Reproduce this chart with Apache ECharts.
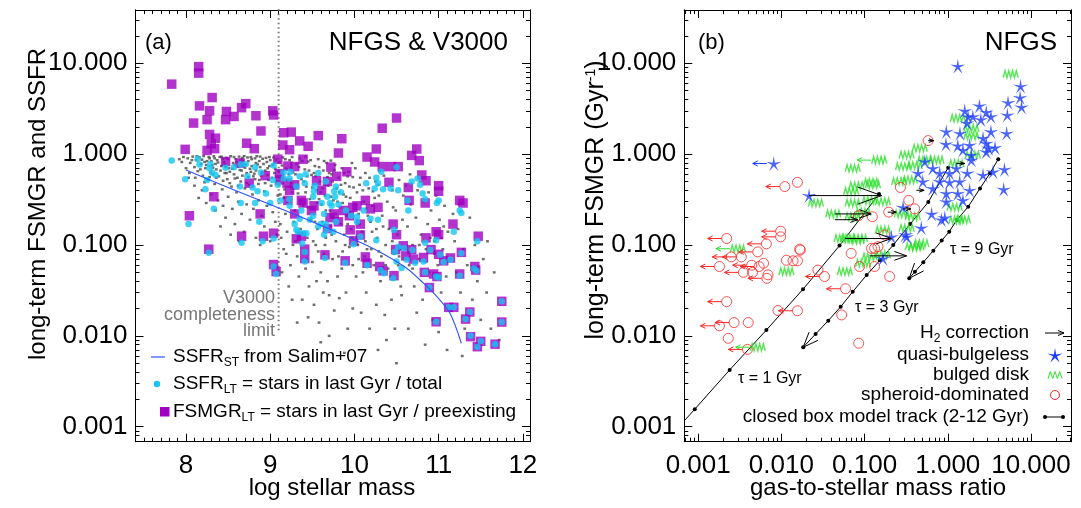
<!DOCTYPE html>
<html>
<head>
<meta charset="utf-8">
<script src="https://cdn.jsdelivr.net/npm/echarts@6/dist/echarts.min.js"></script>
<style>
  html, body { margin: 0; padding: 0; background: #fff; }
  #chart { width: 1081px; height: 508px; }
</style>
</head>
<body>
<div id="chart"></div>
<script>
// ---------- tick labels ----------
const massTicks = [8, 9, 10, 11, 12];
const rateTicks = [0.001, 0.01, 0.1, 1, 10];
const ratioTicks = [0.001, 0.01, 0.1, 1, 10];

// ---------- panel (a): NFGS & V3000 ----------
// V3000 comparison sample (small grey points): [log mass, SSFR]
const v3000Points = [
  [7.92,0.88],[7.97,0.93],[8.02,0.90],[8.05,0.80],[8.08,0.94],[8.10,0.72],[8.12,0.86],[8.14,0.65],[8.16,0.92],[8.18,0.78],
  [8.20,0.58],[8.21,0.95],[8.23,0.70],[8.25,0.84],[8.26,0.52],[8.28,0.90],[8.29,0.63],[8.31,0.76],[8.33,0.95],[8.34,0.47],
  [8.36,0.68],[8.37,0.86],[8.39,0.57],[8.40,0.93],[8.42,0.74],[8.43,0.41],[8.45,0.82],[8.46,0.62],[8.48,0.91],[8.49,0.53],
  [8.51,0.70],[8.53,0.95],[8.54,0.44],[8.56,0.80],[8.57,0.60],[8.59,0.88],[8.60,0.38],[8.62,0.73],[8.63,0.94],[8.65,0.50],
  [8.66,0.66],[8.68,0.85],[8.70,0.42],[8.71,0.77],[8.73,0.92],[8.74,0.56],[8.76,0.69],[8.78,0.88],[8.79,0.36],[8.81,0.61],
  [8.83,0.80],[8.84,0.95],[8.86,0.47],[8.88,0.72],[8.89,0.58],[8.91,0.89],[8.93,0.39],[8.94,0.66],[8.96,0.82],[8.98,0.52],
  [8.99,0.93],[9.01,0.45],[9.03,0.76],[9.05,0.62],[9.07,0.87],[9.09,0.35],[8.22,0.82],[8.32,0.60],[8.44,0.89],[8.52,0.64],
  [8.58,0.76],[8.67,0.91],[8.77,0.64],[8.87,0.84],[8.97,0.70],[8.35,0.78],[8.47,0.72],[8.61,0.55],[8.72,0.48],[8.82,0.53],
  [7.95,0.82],[8.00,0.70],[8.04,0.62],[8.07,0.86],[8.11,0.55],[8.13,0.95],[8.17,0.68],[8.19,0.87],[8.22,0.49],[8.24,0.76],
  [8.27,0.93],[8.28,0.56],[8.30,0.84],[8.32,0.71],[8.34,0.90],[8.36,0.55],[8.38,0.81],[8.41,0.66],[8.42,0.94],[8.44,0.51],
  [8.46,0.78],[8.48,0.62],[8.50,0.88],[8.52,0.48],[8.55,0.69],[8.57,0.93],[8.58,0.54],[8.60,0.82],[8.62,0.45],[8.64,0.67],
  [8.65,0.87],[8.67,0.58],[8.69,0.95],[8.70,0.71],[8.72,0.62],[8.74,0.84],[8.75,0.46],[8.77,0.93],[8.78,0.74],[8.80,0.57],
  [8.82,0.90],[8.83,0.66],[8.85,0.77],[8.87,0.52],[8.88,0.94],[8.90,0.63],[8.92,0.78],[8.94,0.48],[8.95,0.91],[8.97,0.59],
  [8.99,0.74],[9.00,0.86],[9.02,0.55],[9.04,0.92],[9.06,0.69],[9.08,0.50],
  [8.03,0.55],[8.10,0.45],[8.15,0.33],[8.19,0.40],[8.24,0.29],[8.30,0.36],[8.35,0.24],[8.38,0.31],[8.44,0.27],[8.47,0.20],
  [8.50,0.34],[8.55,0.25],[8.58,0.17],[8.62,0.30],[8.66,0.22],[8.69,0.14],[8.72,0.28],[8.76,0.19],[8.80,0.25],[8.83,0.12],
  [8.86,0.31],[8.90,0.21],[8.93,0.16],[8.96,0.27],[9.00,0.11],[9.03,0.23],[9.06,0.18],[8.41,0.16],[8.53,0.13],[8.63,0.11],
  [8.88,0.10],[9.08,0.13],
  [9.11,0.82],[9.13,0.55],[9.15,0.92],[9.17,0.41],[9.19,0.70],[9.21,0.29],[9.23,0.86],[9.25,0.48],[9.27,0.63],[9.29,0.24],
  [9.31,0.78],[9.33,0.37],[9.35,0.90],[9.37,0.53],[9.39,0.27],[9.41,0.68],[9.43,0.44],[9.45,0.83],[9.47,0.32],[9.49,0.59],
  [9.51,0.22],[9.53,0.74],[9.55,0.40],[9.57,0.88],[9.59,0.50],[9.61,0.28],[9.63,0.66],[9.65,0.35],[9.67,0.80],[9.69,0.45],
  [9.71,0.24],[9.73,0.60],[9.75,0.31],[9.77,0.76],[9.79,0.42],[9.81,0.55],[9.83,0.26],[9.85,0.70],[9.87,0.36],[9.89,0.48],
  [9.91,0.21],[9.93,0.64],[9.95,0.33],[9.97,0.80],[9.99,0.43],[9.12,0.36],[9.22,0.60],[9.32,0.46],[9.42,0.94],[9.52,0.62],
  [9.62,0.42],[9.72,0.85],[9.82,0.38],[9.92,0.57],[9.18,0.22],[9.44,0.57],[9.58,0.32],[9.68,0.56],[9.86,0.29],[9.26,0.38],
  [9.10,0.65],[9.14,0.75],[9.16,0.33],[9.18,0.88],[9.20,0.52],[9.24,0.70],[9.26,0.93],[9.28,0.42],[9.30,0.60],[9.34,0.72],
  [9.36,0.31],[9.38,0.84],[9.40,0.50],[9.42,0.38],[9.46,0.66],[9.48,0.86],[9.50,0.43],[9.54,0.57],[9.56,0.29],[9.58,0.72],
  [9.60,0.38],[9.64,0.84],[9.66,0.46],[9.70,0.62],[9.72,0.34],[9.74,0.50],[9.76,0.67],[9.80,0.30],[9.84,0.46],[9.88,0.62],
  [9.90,0.34],[9.94,0.44],[9.98,0.56],[10.02,0.28],[10.06,0.46],[10.10,0.40],[10.14,0.25],[10.18,0.55],[10.24,0.33],[10.28,0.46],
  [9.45,0.26],[9.66,0.24],[9.78,0.22],[9.95,0.23],[10.06,0.17],[10.16,0.21],[10.26,0.15],[9.53,0.18],[9.74,0.20],[9.92,0.17],
  [9.12,0.17],[9.16,0.09],[9.20,0.14],[9.24,0.06],[9.28,0.18],[9.30,0.11],[9.34,0.045],[9.36,0.15],[9.40,0.08],[9.44,0.12],
  [9.46,0.035],[9.48,0.19],[9.50,0.065],[9.54,0.10],[9.56,0.15],[9.60,0.05],[9.62,0.18],[9.64,0.08],[9.66,0.12],[9.70,0.028],
  [9.72,0.16],[9.74,0.07],[9.78,0.11],[9.80,0.045],[9.84,0.17],[9.86,0.085],[9.88,0.13],[9.90,0.03],[9.94,0.095],[9.96,0.15],
  [9.98,0.06],[9.22,0.035],[9.38,0.025],[9.52,0.022],[9.58,0.014],[9.68,0.04],[9.76,0.019],[9.82,0.026],[9.92,0.012],[9.98,0.02],
  [9.42,0.055],[9.14,0.05],[9.26,0.025],[9.32,0.075],[9.55,0.04],[9.63,0.03],[9.85,0.055],[9.70,0.010],[9.45,0.016],[9.88,0.0065],
  [9.60,0.0085],[9.32,0.014],
  [9.13,0.12],[9.19,0.08],[9.27,0.10],[9.35,0.13],[9.43,0.07],[9.51,0.11],[9.57,0.085],[9.65,0.10],[9.73,0.13],[9.81,0.075],
  [9.89,0.10],[9.97,0.12],[10.05,0.07],[10.13,0.11],[10.21,0.14],[10.29,0.085],[10.37,0.06],[10.45,0.11],[10.53,0.075],[10.61,0.09],
  [10.69,0.055],[10.77,0.10],[10.85,0.065],[10.95,0.08],[11.03,0.12],
  [10.01,0.70],[10.03,0.38],[10.05,0.22],[10.07,0.55],[10.09,0.14],[10.11,0.30],[10.13,0.62],[10.15,0.09],[10.17,0.42],[10.19,0.18],
  [10.21,0.27],[10.23,0.06],[10.25,0.50],[10.27,0.12],[10.29,0.35],[10.31,0.04],[10.33,0.21],[10.35,0.58],[10.37,0.10],[10.39,0.30],
  [10.41,0.15],[10.43,0.045],[10.45,0.40],[10.47,0.08],[10.49,0.24],[10.51,0.13],[10.53,0.52],[10.55,0.035],[10.57,0.19],[10.59,0.07],
  [10.04,0.10],[10.10,0.05],[10.14,0.03],[10.20,0.09],[10.26,0.022],[10.32,0.075],[10.36,0.017],[10.40,0.055],[10.44,0.025],[10.48,0.012],
  [10.52,0.06],[10.56,0.028],[10.58,0.35],[10.08,0.018],[10.18,0.012],[10.28,0.007],[10.38,0.009],[10.50,0.005],[10.12,0.075],[10.22,0.39],
  [10.34,0.16],[10.46,0.26],[10.54,0.09],[10.02,0.045],[10.30,0.65],
  [10.61,0.45],[10.63,0.16],[10.65,0.06],[10.67,0.28],[10.69,0.10],[10.71,0.035],[10.73,0.20],[10.75,0.40],[10.77,0.07],[10.79,0.13],
  [10.81,0.025],[10.83,0.30],[10.85,0.09],[10.87,0.17],[10.89,0.05],[10.91,0.24],[10.93,0.015],[10.95,0.11],[10.97,0.35],[10.99,0.06],
  [11.01,0.19],[11.03,0.03],[11.05,0.09],[11.07,0.27],[11.09,0.045],[11.11,0.14],[11.13,0.02],[11.15,0.07],[11.17,0.22],[11.19,0.11],
  [10.64,0.012],[10.74,0.018],[10.84,0.008],[10.90,0.12],[11.00,0.011],[11.06,0.16],[10.66,0.6],[10.78,0.5],[10.88,0.38],[11.10,0.007],
  [11.21,0.05],[11.23,0.15],[11.26,0.03],[11.29,0.09],[11.31,0.012],[11.34,0.06],[11.37,0.20],[11.40,0.025],[11.43,0.10],[11.46,0.04],
  [11.50,0.015],[11.53,0.07],[11.57,0.03],[11.62,0.012],[11.66,0.05],[11.72,0.009],[11.28,0.006],[11.45,0.008],[11.24,0.28],[11.58,0.11]
];

// FSMGR_LT (purple squares): [log mass, FSMGR]
const fsmgrLtPoints = [
  [7.83,5.9],[8.15,9.2],[8.15,7.8],[8.31,4.2],[8.16,3.4],[8.28,3.0],[8.25,2.4],[8.09,2.2],[8.48,2.95],[8.47,2.4],
  [8.57,2.6],[8.66,3.25],[8.71,3.6],[8.83,2.65],[9.03,3.0],[9.04,2.7],[8.89,1.8],[8.28,1.65],[8.35,1.5],[8.30,1.3],
  [8.25,1.1],[8.34,1.15],[7.99,1.13],[8.72,1.32],[8.81,1.15],[9.16,1.72],[9.25,1.75],[9.15,1.26],[9.23,1.12],[9.35,1.4],
  [9.45,1.22],[9.57,1.6],[9.09,0.88],[9.39,0.88],[8.47,0.83],[8.64,0.80],[8.33,0.34],[8.04,0.21],[8.88,0.22],[8.94,0.58],
  [9.21,0.74],[9.29,0.73],[9.20,0.48],[9.23,0.40],[9.37,0.31],[9.11,0.61],[9.72,0.72],[9.79,0.57],[9.55,0.51],[9.61,0.40],
  [9.68,0.50],[9.76,0.22],[9.81,0.18],[9.52,0.27],[8.66,0.125],[8.92,0.125],[9.04,0.135],[9.37,0.125],[8.75,0.48],[9.85,1.48],
  [9.81,1.03],[9.91,0.64],[10.26,1.14],[10.33,1.93],[10.50,2.5],[10.15,0.93],[10.24,0.82],[10.33,0.73],[10.44,0.73],[10.52,0.73],
  [10.74,1.14],[10.68,0.97],[10.77,0.85],[10.41,0.49],[10.80,0.59],[10.85,0.51],[11.00,0.45],[11.00,0.39],[10.64,0.43],[10.65,0.31],
  [10.84,0.29],[11.25,0.31],[11.29,0.29],[11.17,0.17],[11.47,0.125],[10.97,0.14],[11.00,0.13],[10.85,0.12],[10.46,0.17],[10.50,0.13],
  [10.13,0.31],[10.28,0.26],[10.19,0.25],[10.03,0.27],[9.98,0.26],[9.87,0.24],[9.94,0.21],[9.71,0.20],[9.49,0.24],[9.29,0.46],
  [9.21,0.31],[9.11,0.52],[9.29,0.22],[9.39,0.29],[8.27,0.090],[9.68,0.152],[9.95,0.147],[10.07,0.17],[9.04,0.061],[9.07,0.051],
  [9.41,0.090],[9.41,0.071],[9.31,0.117],[9.65,0.078],[9.89,0.067],[9.99,0.111],[10.07,0.129],[10.13,0.074],[10.15,0.063],[10.30,0.058],
  [10.34,0.052],[10.47,0.046],[10.49,0.089],[10.58,0.098],[10.68,0.089],[10.61,0.076],[10.70,0.070],[10.82,0.073],[10.91,0.089],[11.00,0.079],
  [11.06,0.067],[11.14,0.072],[11.27,0.083],[10.83,0.050],[10.94,0.048],[10.98,0.045],[11.25,0.048],[10.89,0.034],[11.12,0.0206],[11.18,0.0206],
  [11.43,0.058],[11.44,0.053],[11.37,0.0183],[11.32,0.0153],[10.97,0.0143],[11.38,0.0098],[11.46,0.0076],[11.50,0.0087],[11.67,0.0081],[11.75,0.024],
  [11.75,0.0142]
];

// SSFR_LT (cyan dots): [log mass, SSFR]
const ssfrLtPoints = [
  [7.83,0.85],[7.99,0.53],[8.03,0.17],[8.14,0.89],[8.16,0.77],[8.23,0.41],[8.25,0.52],[8.29,0.78],[8.28,0.70],[8.31,0.63],
  [8.33,0.25],[8.35,0.59],[8.47,0.71],[8.57,0.72],[8.65,0.77],[8.71,0.78],[8.82,0.72],[8.89,0.63],[8.73,0.57],[8.64,0.44],
  [8.65,0.29],[8.79,0.43],[8.85,0.39],[8.95,0.37],[8.82,0.29],[8.87,0.18],[9.04,0.75],[9.03,0.52],[9.09,0.46],[9.16,0.54],
  [9.16,0.63],[9.24,0.64],[9.23,0.54],[9.31,0.44],[9.35,0.57],[9.41,0.48],[9.42,0.60],[9.53,0.45],[9.57,0.62],[9.66,0.50],
  [9.78,0.44],[9.77,0.34],[9.68,0.34],[9.51,0.34],[9.52,0.39],[9.37,0.24],[9.23,0.32],[9.29,0.17],[9.33,0.14],[9.43,0.135],
  [9.51,0.21],[9.61,0.29],[9.64,0.22],[9.66,0.17],[9.75,0.14],[9.64,0.13],[9.57,0.16],[9.73,0.27],[9.78,0.18],
  [10.14,0.48],[10.26,0.55],[10.28,0.48],[10.32,0.64],[10.50,0.72],[10.24,0.42],[10.34,0.41],[10.43,0.42],[10.52,0.40],[10.68,0.50],
  [10.75,0.54],[10.78,0.46],[10.81,0.37],[10.84,0.32],[11.00,0.31],[10.98,0.29],[11.25,0.24],[11.27,0.225],[11.18,0.14],[11.46,0.11],
  [10.63,0.31],[10.64,0.24],[10.47,0.147],[10.52,0.096],[10.59,0.092],[9.96,0.21],[10.03,0.205],[10.03,0.18],[10.19,0.195],[10.28,0.19],
  [10.11,0.24],[9.90,0.24],[9.81,0.28],[9.76,0.39],[9.84,0.38],[9.71,0.29],[9.60,0.17],[9.47,0.19],[9.35,0.195],[9.39,0.135],
  [9.38,0.104],[9.12,0.31],[9.23,0.27],[9.31,0.147],[9.00,0.29],[9.04,0.118],[8.66,0.106],[10.26,0.113],[10.07,0.123],[9.67,0.147],
  [8.27,0.082],[8.91,0.11],[9.04,0.058],[9.07,0.048],[9.41,0.084],[9.41,0.066],[9.65,0.072],[9.89,0.064],[9.99,0.102],[10.15,0.060],
  [10.31,0.053],[10.35,0.049],[10.46,0.043],[10.48,0.084],[10.50,0.066],[10.56,0.056],[10.69,0.088],[10.62,0.069],[10.72,0.064],[10.82,0.066],
  [10.84,0.050],[10.97,0.045],[11.00,0.044],[10.97,0.113],[10.84,0.106],[10.90,0.088],[11.02,0.078],[11.06,0.065],[11.14,0.069],[11.27,0.081],
  [11.25,0.046],[10.89,0.034],[11.12,0.0206],[11.18,0.0206],[11.42,0.055],[11.45,0.052],[11.37,0.0183],[11.32,0.0153],[10.97,0.0143],[11.38,0.0100],
  [11.46,0.0076],[11.50,0.0087],[11.67,0.0081],[11.75,0.024],[11.75,0.0142]
];

// SSFR_ST relation from Salim+07
const salimMass = [8.0, 8.5, 9.0, 9.5, 10.1, 10.34, 10.62, 10.82, 10.98, 11.135, 11.27];
const salimSsfr = [0.67, 0.43, 0.28, 0.18, 0.104, 0.080, 0.0555, 0.038, 0.027, 0.0177, 0.0083];

// V3000 completeness limit (dotted line)
const completenessMass = 9.1;
const completenessSsfr = [0.0115, 40];

// ---------- panel (b): NFGS ----------
// [gas-to-stellar mass ratio, FSMGR]
const bulgeless = [
  [1.32,9.3],[7.5,5.6],[7.4,4.2],[5.3,3.7],[7.7,3.3],[5.2,2.7],[2.4,3.4],[1.6,3.0],[1.75,2.6],[2.0,2.6],
  [2.9,2.9],[3.3,2.6],[1.7,2.2],[2.5,2.4],[0.96,1.77],[1.4,1.7],[3.3,1.77],[5.1,1.7],[2.65,1.5],[0.95,1.29],
  [1.32,1.24],[1.83,1.26],[2.9,1.32],[3.1,1.16],[3.7,1.18],[1.52,1.11],[1.92,0.98],[2.9,1.06],[1.92,0.86],[0.53,0.83],
  [0.66,0.70],[1.27,0.70],[0.44,0.62],[0.80,0.62],[1.05,0.62],[1.72,0.62],[3.5,0.64],[4.8,0.68],[2.65,0.59],[0.50,0.50],
  [0.80,0.50],[1.05,0.49],[1.39,0.50],[0.66,0.42],[0.96,0.37],[1.32,0.37],[1.83,0.40],[4.7,0.41],[0.96,0.30],[1.52,0.31],
  [0.64,0.22],[0.84,0.19],[0.92,0.20],[0.29,0.26],[0.31,0.13],[0.48,0.155],[0.0215,0.35],[0.21,0.123],[0.32,0.123],[0.166,0.071]
];
const bulgelessUpper = [[0.0081,0.79]];

const bulgedDisk = [
  [5.7,7.6],[1.32,2.48],[1.92,1.93],[1.92,1.59],[2.0,0.98],[0.46,1.16],[0.32,0.98],[0.53,0.86],[0.73,0.86],[0.29,0.73],
  [0.40,0.75],[1.27,0.79],[0.072,0.70],[0.12,0.49],[0.26,0.50],[0.069,0.39],[0.35,0.52],[0.026,0.29],[0.072,0.29],[0.166,0.30],
  [0.042,0.22],[0.072,0.205],[0.096,0.23],[0.28,0.22],[0.38,0.205],[1.21,0.26],[1.27,0.188],[0.053,0.118],[0.166,0.146],[0.32,0.153],
  [0.38,0.096],[0.080,0.113],[0.063,0.118],[0.115,0.074],[0.058,0.051],[0.096,0.063],[0.42,0.096],[0.0115,0.051],[0.080,0.45],[0.126,0.46],
  [0.115,0.31],[1.52,0.19],[0.166,0.078],[0.48,0.104],[0.088,0.118]
];
const bulgedUpper = [[0.15,0.86],[0.0030,0.091],[0.0052,0.0075]];

const spheroid = [
  [0.58,1.41],[0.0156,0.49],[0.27,0.43],[0.34,0.31],[0.40,0.25],[0.195,0.23],[0.084,0.21],[0.124,0.205],[0.0166,0.090],[0.132,0.092],
  [0.174,0.129],[0.121,0.092],[0.145,0.096],[0.0061,0.063],[0.0045,0.050],[0.0069,0.047],[0.0115,0.068],[0.0138,0.067],[0.0156,0.067],[0.0169,0.088],
  [0.0275,0.053],[0.069,0.081],[0.087,0.058],[0.132,0.058],[0.20,0.045],[0.0091,0.019],[0.053,0.017],[0.0040,0.014],[0.0023,0.0094],[0.085,0.0083]
];
const spheroidUpper = [
  [0.0110,0.44],[0.0022,0.118],[0.0098,0.142],[0.0098,0.123],[0.0066,0.103],[0.0025,0.074],[0.0033,0.074],[0.0052,0.084],[0.0054,0.058],[0.0044,0.060],
  [0.0018,0.058],[0.0035,0.050],[0.0067,0.043],[0.033,0.045],[0.059,0.033],[0.0156,0.0189],[0.0022,0.0238],[0.0018,0.0129],[0.0027,0.014],[0.0039,0.0071]
];

// H2 correction: [ratio before, ratio after, FSMGR]
const h2Arrows = [
  [0.0215,0.16,0.35],[0.058,0.21,0.118],[0.115,0.32,0.076],[0.044,0.12,0.22],[0.044,0.083,0.19],
  [0.58,0.68,1.41],[1.27,1.6,0.79],[0.42,0.52,0.40],[0.29,0.36,0.25],[0.19,0.24,0.23]
];

// closed box model tracks, 2 Gyr -> 12 Gyr: [ratio, FSMGR]
const tau1Track = [[0.149,0.364],[0.050,0.0985],[0.0182,0.0326],[0.0066,0.0116],[0.00239,0.00422],[0.00091,0.00156],[0.00068,0.00116]];
const tau3Track = [[1.01,0.71],[0.583,0.297],[0.352,0.170],[0.221,0.100],[0.153,0.068],[0.106,0.0468],[0.072,0.0306],[0.0516,0.0209],[0.0366,0.0147],[0.0258,0.0105],[0.0183,0.0075]];
const tau9Track = [[4.04,0.88],[3.21,0.615],[2.44,0.42],[1.76,0.264],[1.28,0.188],[1.04,0.140],[0.845,0.112],[0.67,0.0867],[0.508,0.0645],[0.403,0.0508],[0.344,0.043]];

// ---------- styling ----------
const FONT = '"Liberation Sans", Arial, Helvetica, sans-serif';
const PURPLE = '#a000c2';
const CYAN = '#12c6f2';
const LINE_BLUE = '#2f52ff';
const STAR_BLUE = '#1a3cff';
const GREEN = '#2ee02e';
const RED = '#ff2424';
const STAR = 'path://M50,0 L57.05,40.29 L97.55,34.55 L61.41,53.71 L79.39,90.45 L50,62 L20.61,90.45 L38.59,53.71 L2.45,34.55 L42.95,40.29 Z';
const ZIGZAG = 'path://M0,10 L2.5,0 L5,10 L7.5,0 L10,10 L12.5,0 L15,10 L17.5,0 L20,10';

const lg = Math.log10;
const logXY = pts => pts.map(p => [lg(p[0]), lg(p[1])]);
const massXY = pts => pts.map(p => [p[0], lg(p[1])]);

const A = { xMin: 7.4, xMax: 12.085, yMin: -3.165, yMax: 1.587 };
const B = { xMin: -3.167, xMax: 1.481, yMin: -3.165, yMax: 1.587 };

function logMinor(lo, hi) {
  const out = [];
  for (let k = Math.floor(lo); k <= Math.ceil(hi); k++) {
    for (let m = 2; m <= 9; m++) {
      const v = k + lg(m);
      if (v > lo && v < hi) out.push(v);
    }
  }
  return out;
}
function linMinor(lo, hi, step) {
  const out = [];
  for (let i = Math.ceil(lo / step); i * step < hi; i++) {
    if (i % 10 !== 0) out.push(+(i * step).toFixed(3));
  }
  return out;
}
const fmtLog = v => Math.pow(10, v).toFixed(3);

function axis(grid, pos, min, max, ticks, len, labels, fmt, margin) {
  const a = {
    type: 'value', gridIndex: grid, position: pos, min: min, max: max,
    axisLine: { show: true, onZero: false, lineStyle: { color: '#000', width: 1 } },
    axisTick: { show: true, inside: true, length: len, customValues: ticks, lineStyle: { color: '#000', width: 1 } },
    axisLabel: { show: false },
    splitLine: { show: false }
  };
  if (labels) {
    a.axisLabel = { show: true, customValues: labels, formatter: fmt, margin: margin,
      fontSize: 26, fontFamily: FONT, color: '#000' };
  }
  return a;
}

const massMajor = massTicks;
const massMinor = linMinor(A.xMin, A.xMax, 0.1);
const rateMajor = rateTicks.map(lg);
const rateMinor = logMinor(A.yMin, A.yMax);
const ratioMajor = ratioTicks.map(lg);
const ratioMinor = logMinor(B.xMin, B.xMax);

const xAxes = [
  axis(0, 'bottom', A.xMin, A.xMax, massMajor, 8, massTicks, v => String(v), 11),
  axis(0, 'bottom', A.xMin, A.xMax, massMinor, 4),
  axis(0, 'top', A.xMin, A.xMax, massMajor, 8),
  axis(0, 'top', A.xMin, A.xMax, massMinor, 4),
  axis(1, 'bottom', B.xMin, B.xMax, ratioMajor, 8, ratioMajor, fmtLog, 11),
  axis(1, 'bottom', B.xMin, B.xMax, ratioMinor, 4),
  axis(1, 'top', B.xMin, B.xMax, ratioMajor, 8),
  axis(1, 'top', B.xMin, B.xMax, ratioMinor, 4)
];
const yAxes = [
  axis(0, 'left', A.yMin, A.yMax, rateMajor, 8, rateMajor, fmtLog, 8),
  axis(0, 'left', A.yMin, A.yMax, rateMinor, 4),
  axis(0, 'right', A.yMin, A.yMax, rateMajor, 8),
  axis(0, 'right', A.yMin, A.yMax, rateMinor, 4),
  axis(1, 'left', B.yMin, B.yMax, rateMajor, 8, rateMajor, fmtLog, 8),
  axis(1, 'left', B.yMin, B.yMax, rateMinor, 4),
  axis(1, 'right', B.yMin, B.yMax, rateMajor, 8),
  axis(1, 'right', B.yMin, B.yMax, rateMinor, 4)
];

// arrow pointing left from a symbol (upper limit on gas)
function limitArrows(points, color, gap) {
  return {
    type: 'custom', xAxisIndex: 4, yAxisIndex: 4, clip: true, z: 4,
    data: logXY(points),
    renderItem: function (params, api) {
      const p = api.coord([api.value(0), api.value(1)]);
      const x0 = p[0] - gap, x1 = p[0] - gap - 14, y = p[1];
      return { type: 'group', children: [
        { type: 'line', shape: { x1: x0, y1: y, x2: x1, y2: y }, style: { stroke: color, lineWidth: 1 } },
        { type: 'polyline', shape: { points: [[x1 + 5, y - 2.5], [x1, y], [x1 + 5, y + 2.5]] },
          style: { stroke: color, fill: null, lineWidth: 1 } }
      ] };
    }
  };
}

function trackArrow(track) {
  const n = track.length;
  return [lg(track[n - 2][0]), lg(track[n - 2][1]), lg(track[n - 1][0]), lg(track[n - 1][1])];
}

function trackSeries(track, hideLast) {
  return {
    type: 'line', xAxisIndex: 4, yAxisIndex: 4, z: 2,
    data: logXY(track).map((p, i) => (hideLast && i === track.length - 1) ? { value: p, symbol: 'none' } : p),
    symbol: 'circle', symbolSize: 4, showSymbol: true,
    itemStyle: { color: '#000' },
    lineStyle: { color: '#000', width: 1 },
    silent: true
  };
}

const series = [
  { type: 'scatter', xAxisIndex: 0, yAxisIndex: 0, data: massXY(v3000Points),
    symbol: 'rect', symbolSize: [2.8, 2.4], itemStyle: { color: '#474747' }, z: 1, silent: true },
  { type: 'line', xAxisIndex: 0, yAxisIndex: 0,
    data: [[completenessMass, lg(completenessSsfr[0])], [completenessMass, lg(completenessSsfr[1])]],
    symbol: 'none', lineStyle: { color: '#777', width: 2, type: [1.5, 3] }, z: 1, silent: true },
  { type: 'scatter', xAxisIndex: 0, yAxisIndex: 0, data: massXY(fsmgrLtPoints),
    symbol: 'rect', symbolSize: 9.5, itemStyle: { color: PURPLE }, z: 3, silent: true },
  { type: 'scatter', xAxisIndex: 0, yAxisIndex: 0, data: massXY(ssfrLtPoints),
    symbol: 'circle', symbolSize: 6.5, itemStyle: { color: CYAN }, z: 4, silent: true },
  { type: 'line', xAxisIndex: 0, yAxisIndex: 0, data: salimMass.map((m, i) => [m, lg(salimSsfr[i])]),
    symbol: 'none', smooth: 0.3, lineStyle: { color: LINE_BLUE, width: 1.1 }, z: 5, silent: true },

  trackSeries(tau1Track, true),
  trackSeries(tau3Track, false),
  trackSeries(tau9Track, false),
  { type: 'custom', xAxisIndex: 4, yAxisIndex: 4, clip: true, z: 2,
    data: [trackArrow(tau3Track), trackArrow(tau9Track)],
    renderItem: function (params, api) {
      const a = api.coord([api.value(0), api.value(1)]);
      const b = api.coord([api.value(2), api.value(3)]);
      const dx = b[0] - a[0], dy = b[1] - a[1], d = Math.hypot(dx, dy);
      const ux = dx / d, uy = dy / d, hl = 15, hw = 6;
      return { type: 'polyline', shape: { points: [
        [b[0] - ux * hl - uy * hw, b[1] - uy * hl + ux * hw], [b[0], b[1]],
        [b[0] - ux * hl + uy * hw, b[1] - uy * hl - ux * hw]] },
        style: { stroke: '#000', fill: null, lineWidth: 1 } };
    }
  },
  { type: 'scatter', xAxisIndex: 4, yAxisIndex: 4, data: logXY(bulgedDisk.concat(bulgedUpper)),
    symbol: ZIGZAG, symbolSize: [15, 7], itemStyle: { color: 'transparent', borderColor: GREEN, borderWidth: 1 }, z: 3, silent: true },
  { type: 'scatter', xAxisIndex: 4, yAxisIndex: 4, data: logXY(spheroid.concat(spheroidUpper)),
    symbol: 'circle', symbolSize: 10, itemStyle: { color: 'transparent', borderColor: RED, borderWidth: 1 }, z: 3, silent: true },
  { type: 'scatter', xAxisIndex: 4, yAxisIndex: 4, data: logXY(bulgeless.concat(bulgelessUpper)),
    symbol: STAR, symbolSize: 15, itemStyle: { color: STAR_BLUE }, z: 3, silent: true },
  limitArrows(bulgedUpper, GREEN, 8),
  limitArrows(spheroidUpper, RED, 5),
  limitArrows(bulgelessUpper, STAR_BLUE, 7),
  { type: 'custom', xAxisIndex: 4, yAxisIndex: 4, clip: true, z: 6,
    data: h2Arrows.map(a => [lg(a[0]), lg(a[2]), lg(a[1])]),
    renderItem: function (params, api) {
      const a = api.coord([api.value(0), api.value(1)]);
      const b = api.coord([api.value(2), api.value(1)]);
      const len = b[0] - a[0], hl = Math.max(5, len * 0.33), hw = hl * 0.36;
      return { type: 'group', children: [
        { type: 'line', shape: { x1: a[0], y1: a[1], x2: b[0], y2: b[1] }, style: { stroke: '#000', lineWidth: 1 } },
        { type: 'polyline', shape: { points: [[b[0] - hl, b[1] - hw], [b[0], b[1]], [b[0] - hl, b[1] + hw]] },
          style: { stroke: '#000', fill: null, lineWidth: 1 } }
      ] };
    }
  }
];

// ---------- text & legends ----------
const sub = { fontSize: 12, fontFamily: FONT, verticalAlign: 'bottom', lineHeight: 12, fill: '#000' };
const sup = { fontSize: 14, fontFamily: FONT, verticalAlign: 'top', lineHeight: 12, fill: '#000' };
function txt(x, y, text, size, align, extra, color) {
  return Object.assign({ type: 'text', x: x, y: y, silent: true, z: 10,
    style: { text: text, fontSize: size, fontFamily: FONT, fill: color || '#000', textAlign: align || 'left', textVerticalAlign: 'middle' } }, extra || {});
}
function rich(x, y, text, size, align, extra) {
  const t = txt(x, y, text, size, align, extra);
  t.style.rich = { t: { fontSize: size, fontFamily: FONT, lineHeight: 24, fill: '#000' }, sub: sub, sup: sup };
  return t;
}
// legend marker outlines (pixel geometry of the key symbols)
function starPoints(cx, cy, R, r) {
  const pts = [];
  for (let i = 0; i < 10; i++) {
    const ang = -Math.PI / 2 + i * Math.PI / 5, rad = i % 2 ? r : R;
    pts.push([cx + rad * Math.cos(ang), cy + rad * Math.sin(ang)]);
  }
  return pts;
}
function zigzagPoints(x, y, w, h, n) {
  const pts = [];
  for (let i = 0; i <= n; i++) pts.push([x + i * w / n, i % 2 ? y - h / 2 : y + h / 2]);
  return pts;
}

const graphics = [
  // panel (a)
  txt(145, 43, '(a)', 22),
  txt(508, 43, 'NFGS & V3000', 26, 'right'),
  txt(275, 298, 'V3000', 18, 'right', null, '#777'),
  txt(275, 315, 'completeness', 18, 'right', null, '#777'),
  txt(275, 331, 'limit', 18, 'right', null, '#777'),
  { type: 'line', shape: { x1: 151, y1: 357, x2: 165, y2: 357 }, style: { stroke: LINE_BLUE, lineWidth: 1.2 }, z: 10 },
  rich(173, 357, '{t|SSFR}{sub|ST}{t| from Salim+07}', 19),
  { type: 'circle', shape: { cx: 157, cy: 384, r: 3.2 }, style: { fill: CYAN }, z: 10 },
  rich(173, 384, '{t|SSFR}{sub|LT}{t| = stars in last Gyr / total}', 19),
  { type: 'rect', shape: { x: 160, y: 407, width: 9.5, height: 9.5 }, style: { fill: PURPLE }, z: 10 },
  rich(173, 412, '{t|FSMGR}{sub|LT}{t| = stars in last Gyr / preexisting}', 19),
  // panel (b)
  txt(698, 43, '(b)', 22),
  txt(1057, 43, 'NFGS', 26, 'right'),
  txt(950, 250, 'τ = 9 Gyr', 16),
  txt(855, 308, 'τ = 3 Gyr', 16),
  txt(738, 379, 'τ = 1 Gyr', 16),
  rich(1029, 333, '{t|H}{sub|2}{t| correction}', 19, 'right'),
  txt(1029, 355, 'quasi-bulgeless', 19, 'right'),
  txt(1029, 375, 'bulged disk', 19, 'right'),
  txt(1029, 395, 'spheroid-dominated', 19, 'right'),
  txt(1029, 417, 'closed box model track (2-12 Gyr)', 19, 'right'),
  { type: 'line', z: 10, shape: { x1: 1045, y1: 333, x2: 1064, y2: 333 }, style: { stroke: '#000', lineWidth: 1 } },
  { type: 'polyline', z: 10, shape: { points: [[1058, 330.5], [1064, 333], [1058, 335.5]] }, style: { stroke: '#000', fill: null, lineWidth: 1 } },
  { type: 'polygon', z: 10, shape: { points: starPoints(1055, 356, 8, 2) }, style: { fill: STAR_BLUE } },
  { type: 'polyline', z: 10, shape: { points: zigzagPoints(1048, 375, 14, 7, 6) }, style: { stroke: GREEN, fill: null, lineWidth: 1 } },
  { type: 'circle', z: 10, shape: { cx: 1055, cy: 395, r: 4.5 }, style: { stroke: RED, fill: null, lineWidth: 1 } },
  { type: 'line', z: 10, shape: { x1: 1045, y1: 417, x2: 1063, y2: 417 }, style: { stroke: '#000', lineWidth: 1 } },
  { type: 'circle', z: 10, shape: { cx: 1045, cy: 417, r: 2 }, style: { fill: '#000' } },
  { type: 'circle', z: 10, shape: { cx: 1063, cy: 417, r: 2 }, style: { fill: '#000' } },
  // axis titles
  txt(332, 488, 'log stellar mass', 24, 'center'),
  txt(878, 488, 'gas-to-stellar mass ratio', 24, 'center'),
  txt(38, 204, 'long-term FSMGR and SSFR', 24, 'center', { rotation: Math.PI / 2 }),
  rich(596, 200, '{t|long-term FSMGR (Gyr}{sup|-1}{t|)}', 25, 'center', { rotation: Math.PI / 2 })
];

const chart = echarts.init(document.getElementById('chart'), null, { renderer: 'canvas' });
chart.setOption({
  animation: false,
  backgroundColor: '#fff',
  textStyle: { fontFamily: FONT },
  grid: [
    { left: 135.5, top: 10, width: 394.5, height: 431.7, containLabel: false },
    { left: 684.3, top: 10, width: 386.7, height: 431.7, containLabel: false }
  ],
  xAxis: xAxes,
  yAxis: yAxes,
  series: series,
  graphic: { elements: graphics }
});
</script>
</body>
</html>
